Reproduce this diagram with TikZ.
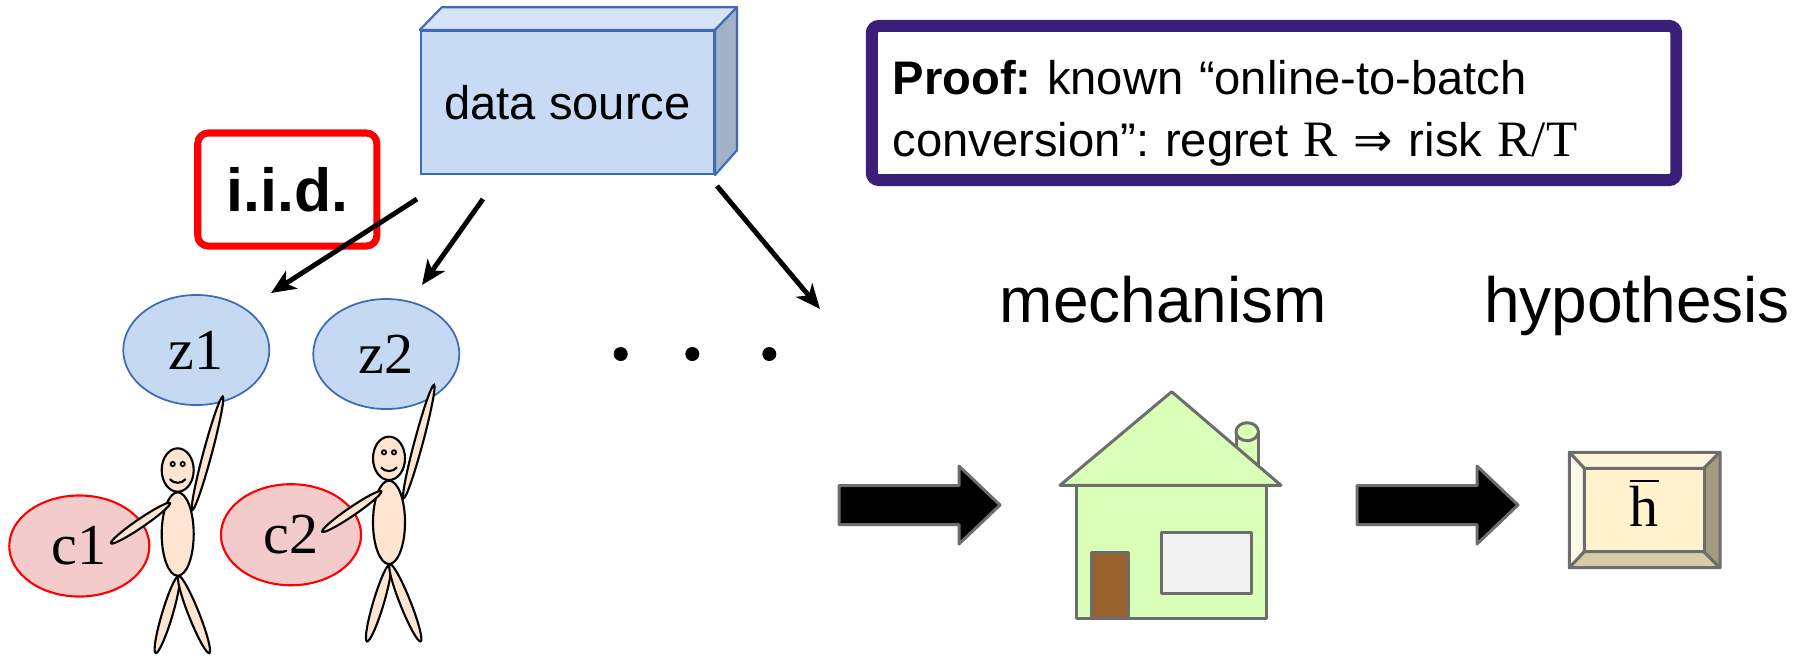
\documentclass[tikz,border=0pt]{standalone}
\usepackage{fontspec}
\setmainfont{Liberation Serif}
\setsansfont{Liberation Sans}
\newfontfamily\arrowfont{DejaVu Sans}
\usepackage{tikz}
\usetikzlibrary{positioning, arrows.meta, shapes.geometric, calc}

% colours
\definecolor{srcfront}{RGB}{201,218,245}
\definecolor{srctop}{RGB}{215,227,248}
\definecolor{srcside}{RGB}{162,177,201}
\definecolor{srcline}{RGB}{62,107,181}
\definecolor{zfill}{RGB}{198,217,243}
\definecolor{cfill}{RGB}{243,203,203}
\definecolor{skin}{RGB}{253,229,209}
\definecolor{proofline}{RGB}{57,31,120}
\definecolor{housefill}{RGB}{218,255,182}
\definecolor{houseline}{RGB}{109,109,109}
\definecolor{doorbrown}{RGB}{152,98,47}
\definecolor{winfill}{RGB}{242,242,242}
\definecolor{keyface}{RGB}{255,242,204}
\definecolor{keytop}{RGB}{255,245,218}
\definecolor{keyleft}{RGB}{255,249,234}
\definecolor{keybottom}{RGB}{214,204,168}
\definecolor{keyright}{RGB}{164,156,126}

% limb: thin ellipse stretched between (#1,#2) and (#3,#4), half width #5 (pt)
\newcommand{\limb}[5]{%
  \pgfmathsetmacro{\limbang}{atan2((#2)-(#4),(#3)-(#1))}%
  \pgfmathsetmacro{\limblen}{0.005*veclen((#3)-(#1),(#4)-(#2))}%
  \draw[body_part] ({((#1)+(#3))/2},{((#2)+(#4))/2})
    ellipse [x radius=\limblen cm, y radius=#5pt, rotate=\limbang];
}

% stick man, head centre at (#1,#2)
\newcommand{\stickman}[2]{%
  \limb{#1+1}{#2+106}{#1-22}{#2+183}{1.5}
  \limb{#1+1}{#2+106}{#1+31.6}{#2+183}{1.5}
  \limb{#1+14.6}{#2+40}{#1+45}{#2-73.3}{1.2}
  \draw[body_part] (#1,#2+64) ellipse [x radius=0.16cm, y radius=0.417cm];
  \limb{#1-7.7}{#2+33}{#1-66.7}{#2+73.3}{1.2}
  \draw[body_part] (#1,#2) ellipse [x radius=0.16cm, y radius=0.217cm];
  \filldraw[fill=skin, line width=0.5pt] (#1-5,#2-6) circle [radius=0.6pt];
  \filldraw[fill=skin, line width=0.5pt] (#1+5,#2-6) circle [radius=0.6pt];
  \draw[line width=0.6pt] (#1-8,#2+9) .. controls (#1-4,#2+14) and (#1+4,#2+14) .. (#1+8,#2+9);
}

\begin{document}
\frenchspacing
\begin{tikzpicture}[
    x=0.01cm, y=-0.01cm,
    >={Stealth[length=7pt, width=6pt, inset=2pt]},
    % Samples and contexts
    sample/.style={
        ellipse, draw=srcline, fill=zfill, line width=0.5pt,
        minimum width=1.46cm, minimum height=1.10cm, inner sep=0pt,
        font=\fontsize{16.5}{19}\selectfont
    },
    context/.style={
        ellipse, draw=red, fill=cfill, line width=0.6pt,
        minimum width=1.40cm, minimum height=1.01cm, inner sep=0pt,
        font=\fontsize{16.5}{19}\selectfont
    },
    body_part/.style={draw=black, fill=skin, line width=0.6pt},
    house_part/.style={draw=houseline, line width=0.85pt, line join=round},
    draw_arrow/.style={->, line width=1.4pt},
    % Labels
    label_text/.style={font=\sffamily\fontsize{18.2}{22}\selectfont, anchor=base},
    bigarrow/.pic={
        \draw[draw=houseline, fill=black, line width=0.85pt, line join=round]
            (0,-19.5) -- (120,-19.5) -- (120,-39) -- (161,0)
            -- (120,39) -- (120,19.5) -- (0,19.5) -- cycle;
    }
]
    \useasboundingbox (0,0) rectangle (1806,656);

    % --- DATA SOURCE ---
    \node[draw=srcline, fill=srcfront, line width=0.6pt,
          minimum width=2.93cm, minimum height=1.43cm,
          font=\sffamily\fontsize{13.4}{16}\selectfont] (src) at (567.4,102.5) {data source};
    \draw[draw=srcline, fill=srctop, line width=0.6pt, line join=round]
        (src.north west) -- ++(22,-22.7) -- ([shift={(22,-22.7)}]src.north east)
        -- (src.north east) -- cycle;
    \draw[draw=srcline, fill=srcside, line width=0.6pt, line join=round]
        (src.north east) -- ++(22,-22.7) -- ++(0,143) -- (src.south east) -- cycle;

    % --- I.I.D. TAG ---
    \node[draw=red, line width=2pt, rounded corners=3pt,
          minimum width=1.79cm, minimum height=1.13cm,
          font=\sffamily\bfseries\fontsize{17.3}{20}\selectfont] (iid) at (287.3,189.5) {i.i.d.};

    % --- PROOF BOX ---
    \node[draw=proofline, line width=3.4pt, rounded corners=2pt,
          minimum width=8.04cm, minimum height=1.54cm] (proof) at (1274,103) {};
    \node[text width=7.62cm, inner sep=0pt, align=left,
          font=\sffamily\fontsize{13.4}{17.6}\selectfont] (prooftext) at (1274,113)
        {\textbf{Proof:} known “online-to-batch\\
         conversion”: regret {\rmfamily\fontsize{14.5}{17.6}\selectfont R}
         {\arrowfont ⇒} risk {\rmfamily\fontsize{14.5}{17.6}\selectfont R/T}};

    % --- SAMPLES ---
    \node[sample] (z1) at (196.3,350) {z1};
    \node[sample] (z2) at (386.3,354) {z2};
    \node[context] (c1) at (79.3,546) {c1};
    \node[context] (c2) at (291,534.7) {c2};

    % --- PEOPLE ---
    \stickman{177.7}{470}
    \stickman{389}{458.3}

    % --- DRAWS FROM THE SOURCE ---
    \coordinate (s1) at (417,199);   \coordinate (t1) at (271,293);
    \coordinate (s2) at (483,199);   \coordinate (t2) at (422,285);
    \coordinate (s3) at (717,186);   \coordinate (t3) at (820,309);
    \draw[draw_arrow] (s1) -- (t1);
    \draw[draw_arrow] (s2) -- (t2);
    \draw[draw_arrow] (s3) -- (t3);

    \foreach \x in {620.7,692.3,769.3} {
        \fill (\x,354) circle [radius=0.07cm];
    }

    % --- MECHANISM ---
    \pic at (839,505) {bigarrow};
    \node[label_text] (mech) at (1163.5,322.5) {mechanism};
    % chimney
    \draw[house_part, fill=housefill] (1236,431.7) -- (1236,472) -- (1258.3,472) -- (1258.3,431.7);
    \draw[house_part, fill=housefill] (1247.2,431.7) ellipse [x radius=0.112cm, y radius=0.09cm];
    % roof and walls
    \draw[house_part, fill=housefill] (1060,485.3) -- (1171.7,391.7) -- (1281,485.3) -- cycle;
    \draw[house_part, fill=housefill] (1076,485.3) rectangle (1266.7,618.3);
    \draw[house_part, fill=doorbrown] (1091.7,552.3) rectangle (1128.3,618.3);
    \draw[house_part, fill=winfill] (1161.7,532.7) rectangle (1251.7,593.3);

    % --- HYPOTHESIS ---
    \pic at (1357,505) {bigarrow};
    \node[label_text] (hyp) at (1637,322.5) {hypothesis};
    \draw[house_part, fill=keytop] (1569.3,452.3) -- (1720,452.3) -- (1704,468.3) -- (1584.3,468.3) -- cycle;
    \draw[house_part, fill=keyleft] (1569.3,452.3) -- (1584.3,468.3) -- (1584.3,551.7) -- (1569.3,567.7) -- cycle;
    \draw[house_part, fill=keybottom] (1584.3,551.7) -- (1704,551.7) -- (1720,567.7) -- (1569.3,567.7) -- cycle;
    \draw[house_part, fill=keyright] (1704,468.3) -- (1720,452.3) -- (1720,567.7) -- (1704,551.7) -- cycle;
    \node[draw=houseline, fill=keyface, line width=0.85pt,
          minimum width=1.197cm, minimum height=0.834cm] (key) at (1644.15,510) {};
    \node[anchor=base, font=\fontsize{16.5}{19}\selectfont] (hbar) at (1644,526)
        {$\overline{\hbox{\rmfamily h}}$};

\end{tikzpicture}
\end{document}
